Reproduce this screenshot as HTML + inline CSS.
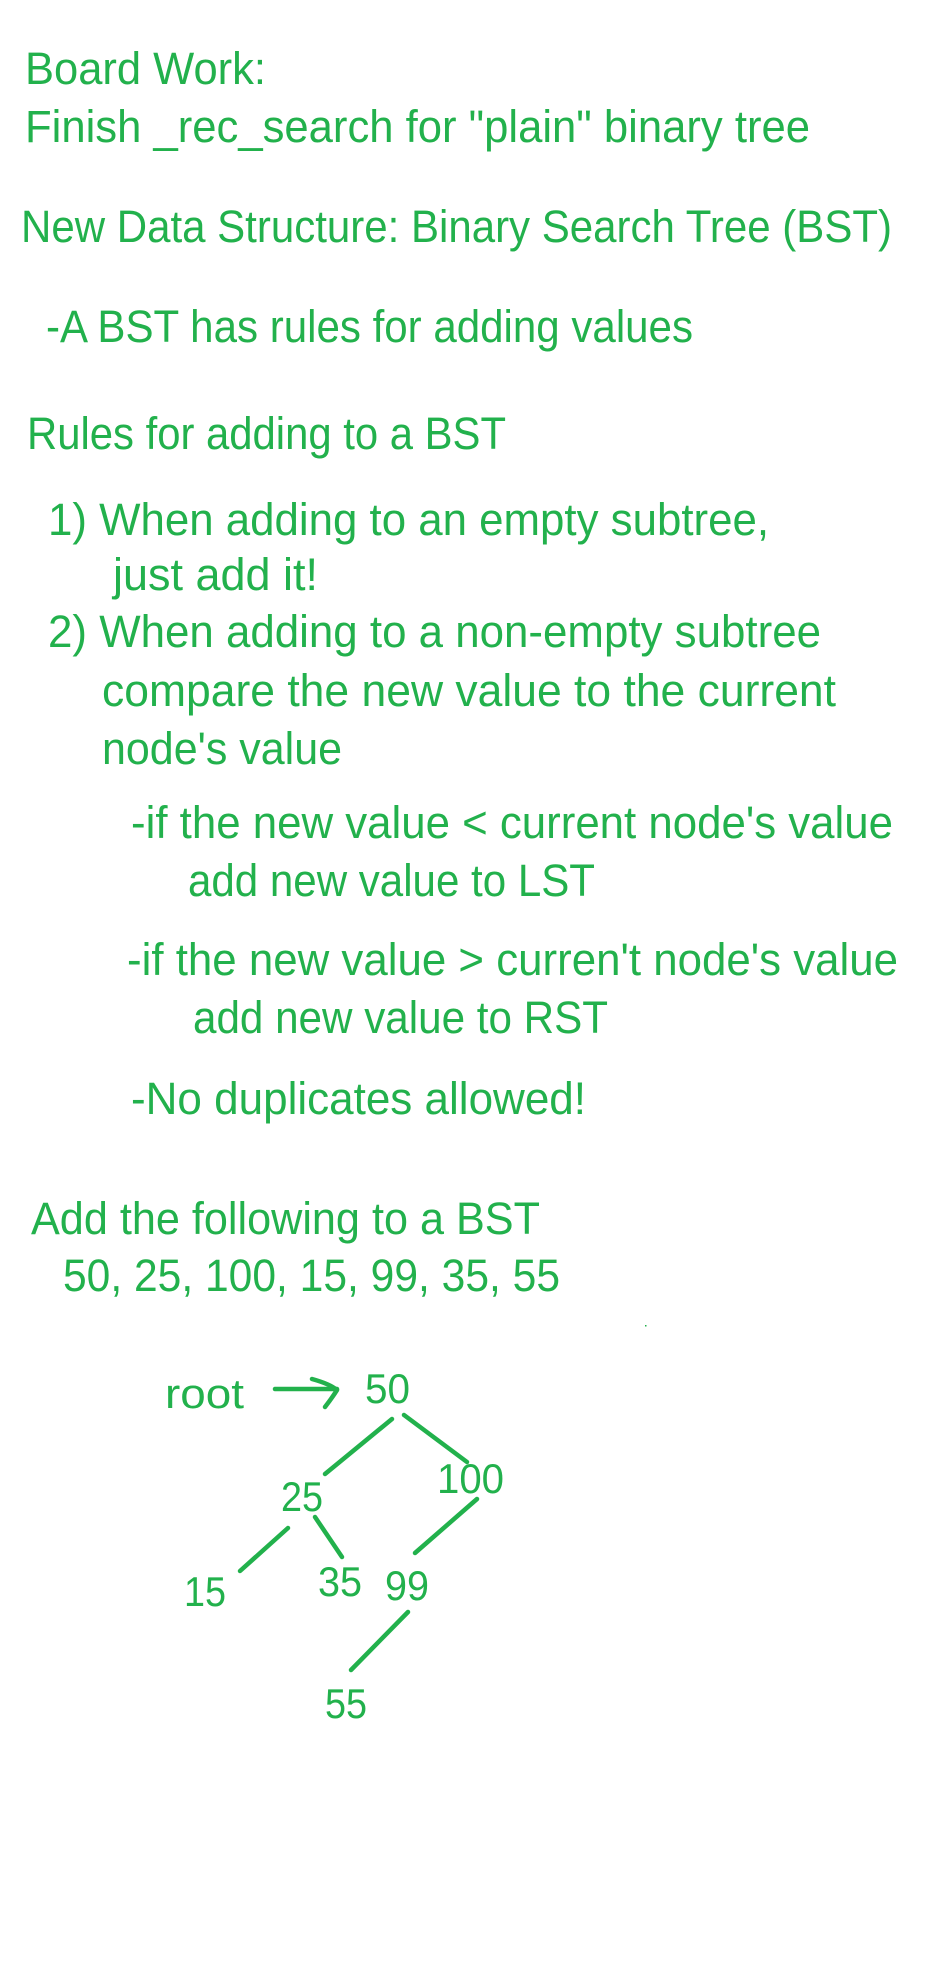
<!DOCTYPE html>
<html><head><meta charset="utf-8"><style>
html,body{margin:0;padding:0;background:#fff;}
svg{display:block;}
text{font-family:"Liberation Sans",sans-serif;fill:#22b14c;font-size:45px;}
.n{font-size:42px;}
</style></head><body>
<svg width="928" height="1976" viewBox="0 0 928 1976" xmlns="http://www.w3.org/2000/svg">
<rect width="928" height="1976" fill="#fff"/>
<g>
<text x="25" y="84" textLength="241" lengthAdjust="spacingAndGlyphs">Board Work:</text>
<text x="25" y="142" textLength="785" lengthAdjust="spacingAndGlyphs">Finish _rec_search for "plain" binary tree</text>
<text x="21" y="242" textLength="871" lengthAdjust="spacingAndGlyphs">New Data Structure: Binary Search Tree (BST)</text>
<text x="46" y="342" textLength="647" lengthAdjust="spacingAndGlyphs">-A BST has rules for adding values</text>
<text x="27" y="449" textLength="479" lengthAdjust="spacingAndGlyphs">Rules for adding to a BST</text>
<text x="48" y="535" textLength="721" lengthAdjust="spacingAndGlyphs">1) When adding to an empty subtree,</text>
<text x="113" y="590" textLength="205" lengthAdjust="spacingAndGlyphs">just add it!</text>
<text x="48" y="647" textLength="773" lengthAdjust="spacingAndGlyphs">2) When adding to a non-empty subtree</text>
<text x="102" y="706" textLength="734" lengthAdjust="spacingAndGlyphs">compare the new value to the current</text>
<text x="102" y="764" textLength="240" lengthAdjust="spacingAndGlyphs">node's value</text>
<text x="131" y="838" textLength="762" lengthAdjust="spacingAndGlyphs">-if the new value &lt; current node's value</text>
<text x="188" y="896" textLength="407" lengthAdjust="spacingAndGlyphs">add new value to LST</text>
<text x="127" y="975" textLength="771" lengthAdjust="spacingAndGlyphs">-if the new value &gt; curren't node's value</text>
<text x="193" y="1033" textLength="415" lengthAdjust="spacingAndGlyphs">add new value to RST</text>
<text x="131" y="1114" textLength="455" lengthAdjust="spacingAndGlyphs">-No duplicates allowed!</text>
<text x="31" y="1234" textLength="509" lengthAdjust="spacingAndGlyphs">Add the following to a BST</text>
<text x="63" y="1291" textLength="497" lengthAdjust="spacingAndGlyphs">50, 25, 100, 15, 99, 35, 55</text>
<text class="n" x="165" y="1408" textLength="79" lengthAdjust="spacingAndGlyphs">root</text>
<text class="n" x="365" y="1403" textLength="45" lengthAdjust="spacingAndGlyphs">50</text>
<text class="n" x="437" y="1493" textLength="67" lengthAdjust="spacingAndGlyphs">100</text>
<text class="n" x="281" y="1511" textLength="42" lengthAdjust="spacingAndGlyphs">25</text>
<text class="n" x="184" y="1606" textLength="42" lengthAdjust="spacingAndGlyphs">15</text>
<text class="n" x="318" y="1596" textLength="44" lengthAdjust="spacingAndGlyphs">35</text>
<text class="n" x="385" y="1600" textLength="44" lengthAdjust="spacingAndGlyphs">99</text>
<text class="n" x="325" y="1718" textLength="42" lengthAdjust="spacingAndGlyphs">55</text>
</g>
<g stroke="#22b14c" stroke-width="4.5" fill="none" stroke-linecap="round" stroke-linejoin="round">
<line x1="275" y1="1389" x2="337" y2="1389"/>
<path d="M312 1379 Q330 1384 337 1390 Q332 1398 325 1407"/>
<line x1="392" y1="1419" x2="325" y2="1474"/>
<line x1="404" y1="1415" x2="467" y2="1462"/>
<line x1="288" y1="1528" x2="240" y2="1571"/>
<line x1="315" y1="1517" x2="342" y2="1557"/>
<line x1="477" y1="1499" x2="415" y2="1553"/>
<line x1="408" y1="1612" x2="351" y2="1670"/>
</g>
<rect x="645" y="1325" width="1.5" height="1.5" fill="#22b14c"/>
</svg>
</body></html>
